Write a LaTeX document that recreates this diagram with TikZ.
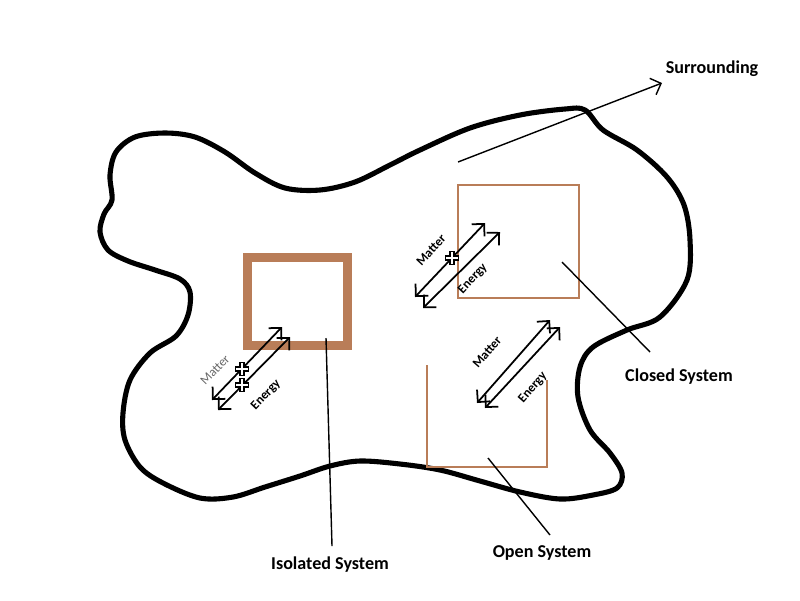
\documentclass[tikz,border=0pt]{standalone}
\usepackage{fontspec}
\setmainfont{Carlito}
\usetikzlibrary{arrows.meta}

\definecolor{wallbrown}{HTML}{B97D58}

\tikzset{
  boundary/.style={line width=2.9pt,line cap=round,line join=round},
  flow/.style={{Straight Barb[length=5pt,width=10pt]}-{Straight Barb[length=5pt,width=10pt]},line width=1pt},
  pointer/.style={line width=0.8pt},
  bigtext/.style={font=\fontsize{10.3}{12}\selectfont\bfseries},
  smalltext/.style={font=\fontsize{7.3}{8}\selectfont\bfseries,inner sep=0.5pt},
  blocker/.pic={\draw[line width=0.9pt,fill=white] (-1.8,-6.5) -- (1.8,-6.5) -- (1.8,-1.8) -- (6.5,-1.8) -- (6.5,1.8) -- (1.8,1.8) -- (1.8,6.5) -- (-1.8,6.5) -- (-1.8,1.8) -- (-6.5,1.8) -- (-6.5,-1.8) -- (-1.8,-1.8) -- cycle;}
}

\begin{document}
\begin{tikzpicture}[x=0.02cm,y=-0.02cm]
\useasboundingbox (0,0) rectangle (800,600);

% surroundings boundary
\draw [boundary] plot [smooth cycle,tension=0.55] coordinates {
 (112,200) (110,175) (116,152) (135,137) (165,133) (195,137) (225,152) (255,173)
 (285,188) (320,190) (355,182) (390,165) (420,150) (470,128) (520,115) (565,109)
 (585,110) (603,130) (637,150) (667,177) (684,205) (690,240) (687,280) (660,317)
 (627,330) (593,347) (580,367) (578,397) (590,430) (610,453) (622,473) (617,488)
 (593,495) (560,499) (520,492) (480,481) (440,470) (400,464) (360,461) (330,466)
 (300,476) (265,487) (233,497) (200,498) (163,483) (140,467) (125,440) (123,413)
 (130,380) (150,353) (176,336) (188,315) (190,292) (180,279) (155,270) (128,261)
 (108,250) (100,232) (104,214)};

\node [bigtext] (surr-text) at (712,69) {Surrounding};
\coordinate (surr-tail) at (458,162);
\coordinate (surr-head) at (662,83);
\draw [pointer,-{Straight Barb[length=5pt,width=10pt]}] (surr-tail) -- (surr-head);

%%%%%%%%%%%%%%%%%%%%%%%%%%%%%%%%%%%%%%%%%%%%%%%%%%%%%%%%%%%%%%%%%

% isolated system
\draw [wallbrown,line width=5.2pt] (247.5,257.5) rectangle (347.5,345.5);
\coordinate (iso-m-a) at (212,400);
\coordinate (iso-m-b) at (282,327);
\coordinate (iso-e-a) at (218,410);
\coordinate (iso-e-b) at (290,337);
\draw [flow] (iso-m-a) -- (iso-m-b);
\draw [flow] (iso-e-a) -- (iso-e-b);
\pic at (242,369) {blocker};
\pic at (242,385) {blocker};
\node [smalltext,font=\fontsize{7.3}{8}\selectfont,text=black!60,rotate=46] (iso-matter) at (215,370) {Matter};
\node [smalltext,rotate=46] (iso-energy) at (266,395) {Energy};

\node [bigtext] (iso-text) at (330,565) {Isolated System};
\coordinate (iso-tail) at (326,338);
\coordinate (iso-end) at (332,546);
\draw [pointer] (iso-tail) -- (iso-end);

%%%%%%%%%%%%%%%%%%%%%%%%%%%%%%%%%%%%%%%%%%%%%%%%%%%%%%%%%%%%%%%%%

% closed system
\draw [wallbrown,line width=1pt] (458,185) rectangle (579,298);
\coordinate (cls-m-a) at (415,297);
\coordinate (cls-m-b) at (485,223);
\coordinate (cls-e-a) at (423,308);
\coordinate (cls-e-b) at (500,232);
\draw [flow] (cls-m-a) -- (cls-m-b);
\draw [flow] (cls-e-a) -- (cls-e-b);
\pic at (452,258) {blocker};
\node [smalltext,rotate=47] (cls-matter) at (431,250) {Matter};
\node [smalltext,rotate=47] (cls-energy) at (473,279) {Energy};

\node [bigtext] (cls-text) at (679,377) {Closed System};
\coordinate (cls-tail) at (562,262);
\coordinate (cls-end) at (650,352);
\draw [pointer] (cls-tail) -- (cls-end);

%%%%%%%%%%%%%%%%%%%%%%%%%%%%%%%%%%%%%%%%%%%%%%%%%%%%%%%%%%%%%%%%%

% open system
\draw [wallbrown,line width=1pt] (427,365) -- (427,467) -- (547,467) -- (547,380);
\coordinate (opn-m-a) at (477,403);
\coordinate (opn-m-b) at (550,320);
\coordinate (opn-e-a) at (485,408);
\coordinate (opn-e-b) at (560,327);
\draw [flow] (opn-m-a) -- (opn-m-b);
\draw [flow] (opn-e-a) -- (opn-e-b);
\node [smalltext,rotate=49] (opn-matter) at (487,352) {Matter};
\node [smalltext,rotate=49] (opn-energy) at (533,388) {Energy};

\node [bigtext] (opn-text) at (542,553) {Open System};
\coordinate (opn-tail) at (488,458);
\coordinate (opn-end) at (550,535);
\draw [pointer] (opn-tail) -- (opn-end);

\end{tikzpicture}
\end{document}
